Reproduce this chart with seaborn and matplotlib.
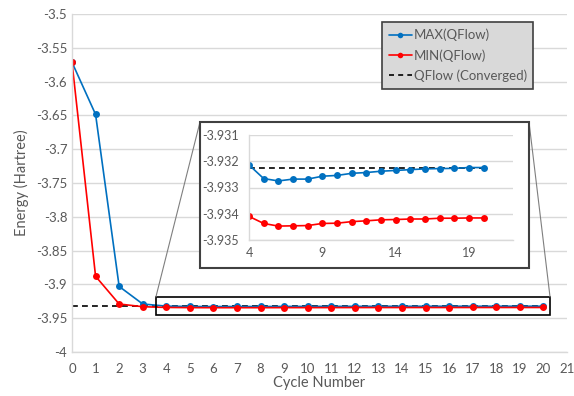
import numpy as np
import pandas as pd
import seaborn as sns
import matplotlib.pyplot as plt
from matplotlib.patches import Rectangle
from matplotlib.lines import Line2D
from matplotlib.ticker import FuncFormatter, MultipleLocator

# data
cycles = list(range(21))
max_qflow = [-3.5715, -3.6485, -3.9030, -3.9290,
             -3.93214, -3.93266, -3.93275, -3.93268, -3.93268, -3.93257,
             -3.93254, -3.93246, -3.93243, -3.93238, -3.93235, -3.93232,
             -3.93229, -3.93228, -3.93227, -3.93224, -3.93224]
min_qflow = [-3.5715, -3.8880, -3.9290, -3.9330,
             -3.93410, -3.93437, -3.93447, -3.93446, -3.93445, -3.93437,
             -3.93436, -3.93430, -3.93427, -3.93423, -3.93422, -3.93420,
             -3.93420, -3.93417, -3.93417, -3.93416, -3.93416]
converged = -3.93227

blue = "#0070C0"
red = "#FF0000"
grey_text = "#595959"
grid_col = "#D9D9D9"

df = pd.DataFrame({
    "cycle": cycles * 2,
    "energy": max_qflow + min_qflow,
    "series": ["MAX(QFlow)"] * 21 + ["MIN(QFlow)"] * 21,
})

sns.set_style("white")
plt.rcParams["font.family"] = ["Lato", "DejaVu Sans"]

fig = plt.figure(figsize=(5.74, 3.96), dpi=100)
ax = fig.add_axes([72 / 574, 1 - 352 / 396, 495 / 574, 338 / 396])


def style_axes(a, fs):
    a.grid(axis="y", color=grid_col, lw=1)
    a.grid(axis="x", visible=False)
    for s in ["top", "right"]:
        a.spines[s].set_visible(False)
    for s in ["left", "bottom"]:
        a.spines[s].set_color(grid_col)
        a.spines[s].set_linewidth(1)
    a.tick_params(axis="both", colors=grey_text, labelsize=fs, length=0)
    a.set_axisbelow(True)


# main plot
sns.lineplot(data=df, x="cycle", y="energy", hue="series", palette=[blue, red],
             marker="o", markersize=5, markeredgewidth=0, lw=1.2, ax=ax,
             legend=False)
ax.plot([cycles[0], cycles[-1]], [converged, converged], ls=(0, (3.5, 2.5)),
        color="black", lw=1.2, zorder=1.5)
ax.set_xlim(0, 21)
ax.set_ylim(-4, -3.5)
ax.xaxis.set_major_locator(MultipleLocator(1))
ax.yaxis.set_major_locator(MultipleLocator(0.05))
ax.yaxis.set_major_formatter(FuncFormatter(lambda v, p: f"{round(v, 3):g}"))
style_axes(ax, 9.5)
ax.tick_params(axis="x", length=4, color=grid_col, pad=4)
ax.set_xlabel("Cycle Number", color=grey_text, fontsize=10.5, labelpad=1)
ax.set_ylabel("Energy (Hartree)", color=grey_text, fontsize=10.5, labelpad=5)

# zoom region rectangle on main plot
zx0, zx1 = 3.56, 20.28
zy0, zy1 = -3.9455, -3.9185
ax.add_patch(Rectangle((zx0, zy0), zx1 - zx0, zy1 - zy0, fill=False,
                       ec="black", lw=1.2, zorder=4))

# inset frame (figure pixels)
W, H = 574, 396
bx0, by0, bx1, by1 = 200, 122, 529, 268
fig.add_artist(Rectangle((bx0 / W, 1 - by1 / H), (bx1 - bx0) / W, (by1 - by0) / H,
                         transform=fig.transFigure, fc="white", ec="#404040",
                         lw=1.5, zorder=3))

# connector lines
for (dx, dy), (fx, fy) in [((zx0, zy1), (bx0, by0)), ((zx1, zy1), (bx1, by0))]:
    px, py = ax.transData.transform((dx, dy))
    fxp, fyp = fig.transFigure.inverted().transform((px, py))
    fig.add_artist(Line2D([fxp, fx / W], [fyp, 1 - fy / H], transform=fig.transFigure,
                          color="#7F7F7F", lw=0.8, zorder=2.5))

# inset axes
ins = fig.add_axes([249 / W, 1 - 240 / H, 264 / W, 105 / H], zorder=4)
ins.patch.set_alpha(0)
sub = df[df["cycle"] >= 4]
sns.lineplot(data=sub, x="cycle", y="energy", hue="series", palette=[blue, red],
             marker="o", markersize=5, markeredgewidth=0, lw=1.2, ax=ins,
             legend=False)
ins.plot([4, 20], [converged, converged], ls=(0, (3.5, 2.5)), color="black",
         lw=1.2, zorder=1.5)
ins.set_xlim(4, 22)
ins.set_ylim(-3.935, -3.931)
ins.set_xticks([4, 9, 14, 19])
ins.yaxis.set_major_locator(MultipleLocator(0.001))
ins.yaxis.set_major_formatter(FuncFormatter(lambda v, p: f"{v:.3f}"))
style_axes(ins, 9)
ins.tick_params(axis="x", pad=5)
ins.tick_params(axis="y", pad=7)
ins.set_xlabel("")
ins.set_ylabel("")

# legend
handles = [
    Line2D([], [], color=blue, marker="o", markersize=4, markeredgewidth=0, lw=1.2),
    Line2D([], [], color=red, marker="o", markersize=4, markeredgewidth=0, lw=1.2),
    Line2D([], [], color="black", ls=(0, (3, 2.5)), lw=1.2),
]
leg = fig.legend(handles, ["MAX(QFlow)", "MIN(QFlow)", "QFlow (Converged)"],
                 loc="upper left", bbox_to_anchor=(382 / W, 1 - 22 / H),
                 bbox_transform=fig.transFigure, borderaxespad=0, fontsize=9.5,
                 frameon=True, fancybox=False, framealpha=1, handlelength=1.8,
                 handletextpad=0.1, labelspacing=0.6, borderpad=0.5,
                 labelcolor=grey_text)
leg.get_frame().set_facecolor("#D9D9D9")
leg.get_frame().set_edgecolor("#404040")
leg.get_frame().set_linewidth(1.2)
leg.set_zorder(10)

fig.savefig("out.png", dpi=100)
